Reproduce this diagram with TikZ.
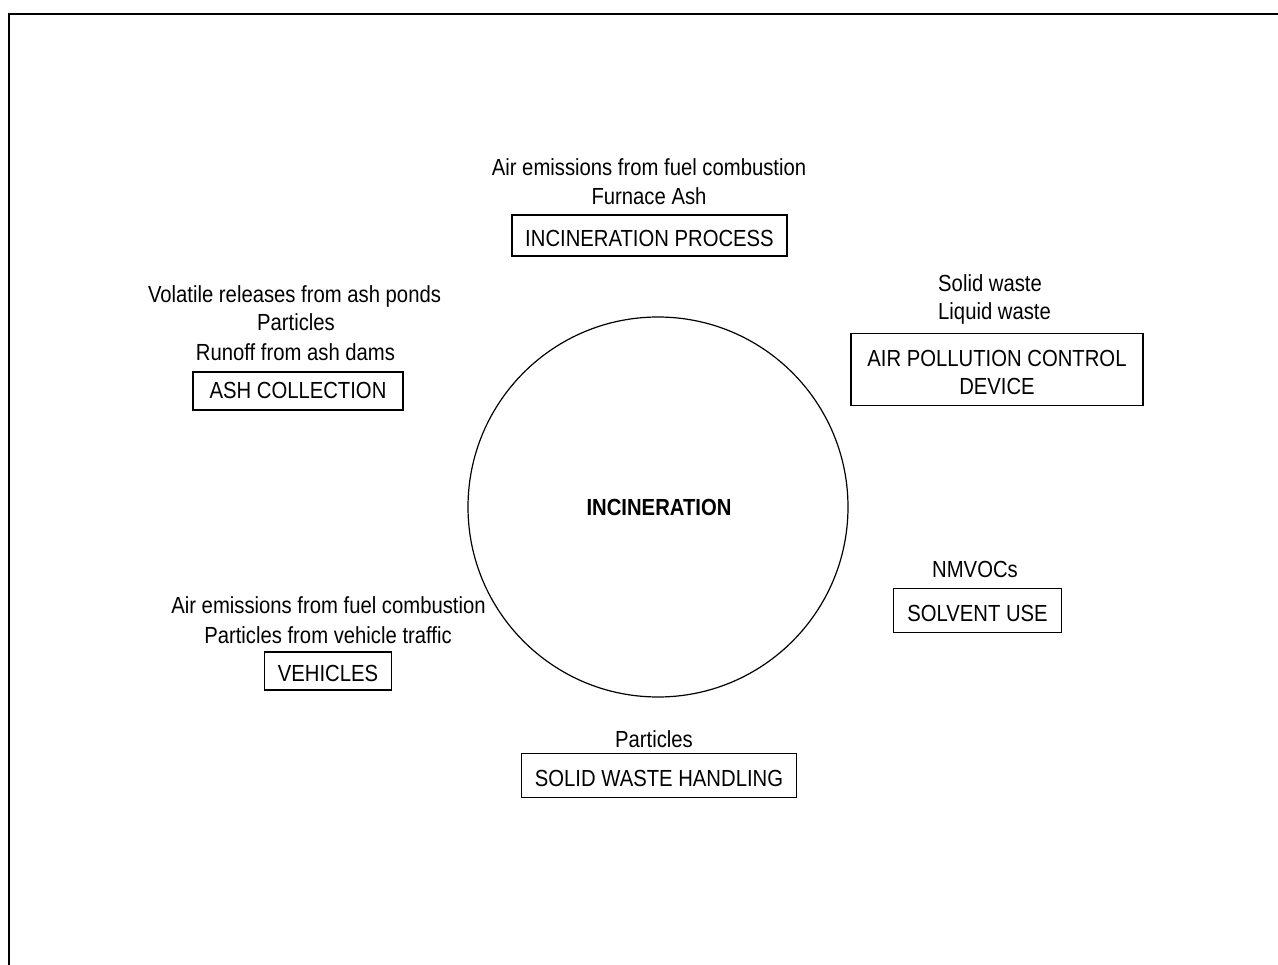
\documentclass[tikz,border=0pt]{standalone}
\usepackage{fontspec}
\setmainfont[FakeStretch=0.87]{Liberation Sans}
\begin{document}
\begin{tikzpicture}[x=1pt,y=1pt,
  lab/.style={inner sep=0pt,anchor=base,font=\fontsize{23.3}{28.3}\selectfont},
  labl/.style={lab,anchor=base west},
  box/.style={draw,line width=1.2pt,inner sep=0pt,font=\fontsize{23.3}{28.3}\selectfont,
    text height=21.5pt,text depth=0pt,align=center},
  frame/.style={line width=2pt}]
\useasboundingbox (0,0) rectangle (1278,-965);
\coordinate (fb) at (9,-966);
\coordinate (ftl) at (9,-14);
\coordinate (ftr) at (1279,-14);
\draw[frame] (fb) -- (ftl) -- (ftr);

% central circle
\node[draw,circle,line width=1.2pt,minimum size=380pt,inner sep=0pt] (circ) at (658,-507) {};
\node[inner sep=0pt,anchor=base,font=\fontsize{23.3}{28.3}\selectfont\bfseries] (inc) at (659,-515) {INCINERATION};

% incineration process
\node[lab] (ip1) at (649,-176) {Air emissions from fuel combustion};
\node[lab] (ip2) at (649,-205) {Furnace Ash};
\node[box,minimum width=275pt,minimum height=41pt] (ip) at (649.5,-235.5) {INCINERATION PROCESS};

% air pollution control device
\node[labl] (ap1) at (938,-291.5) {Solid waste};
\node[labl] (ap2) at (938,-320) {Liquid waste};
\node[box,text height=51pt,minimum width=292pt,minimum height=72pt] (ap) at (997,-369.5) {AIR POLLUTION CONTROL\\DEVICE};

% ash collection
\node[lab] (ac1) at (294.5,-303) {Volatile releases from ash ponds};
\node[lab] (ac2) at (296,-331) {Particles};
\node[lab] (ac3) at (295.5,-361) {Runoff from ash dams};
\node[box,text height=14.6pt,minimum width=210pt,minimum height=38pt] (ac) at (298,-391) {ASH COLLECTION};

% vehicles
\node[lab] (ve1) at (328.5,-613) {Air emissions from fuel combustion};
\node[lab] (ve2) at (328,-643) {Particles from vehicle traffic};
\node[box,minimum width=127pt,minimum height=38pt] (ve) at (328,-671) {VEHICLES};

% solvent use
\node[lab] (su1) at (975,-577) {NMVOCs};
\node[box,minimum width=168pt,minimum height=44pt] (su) at (977.5,-610.3) {SOLVENT USE};

% solid waste handling
\node[lab] (sw1) at (654,-747) {Particles};
\node[box,minimum width=275pt,minimum height=44pt] (sw) at (659,-775.3) {SOLID WASTE HANDLING};
\end{tikzpicture}
\end{document}
